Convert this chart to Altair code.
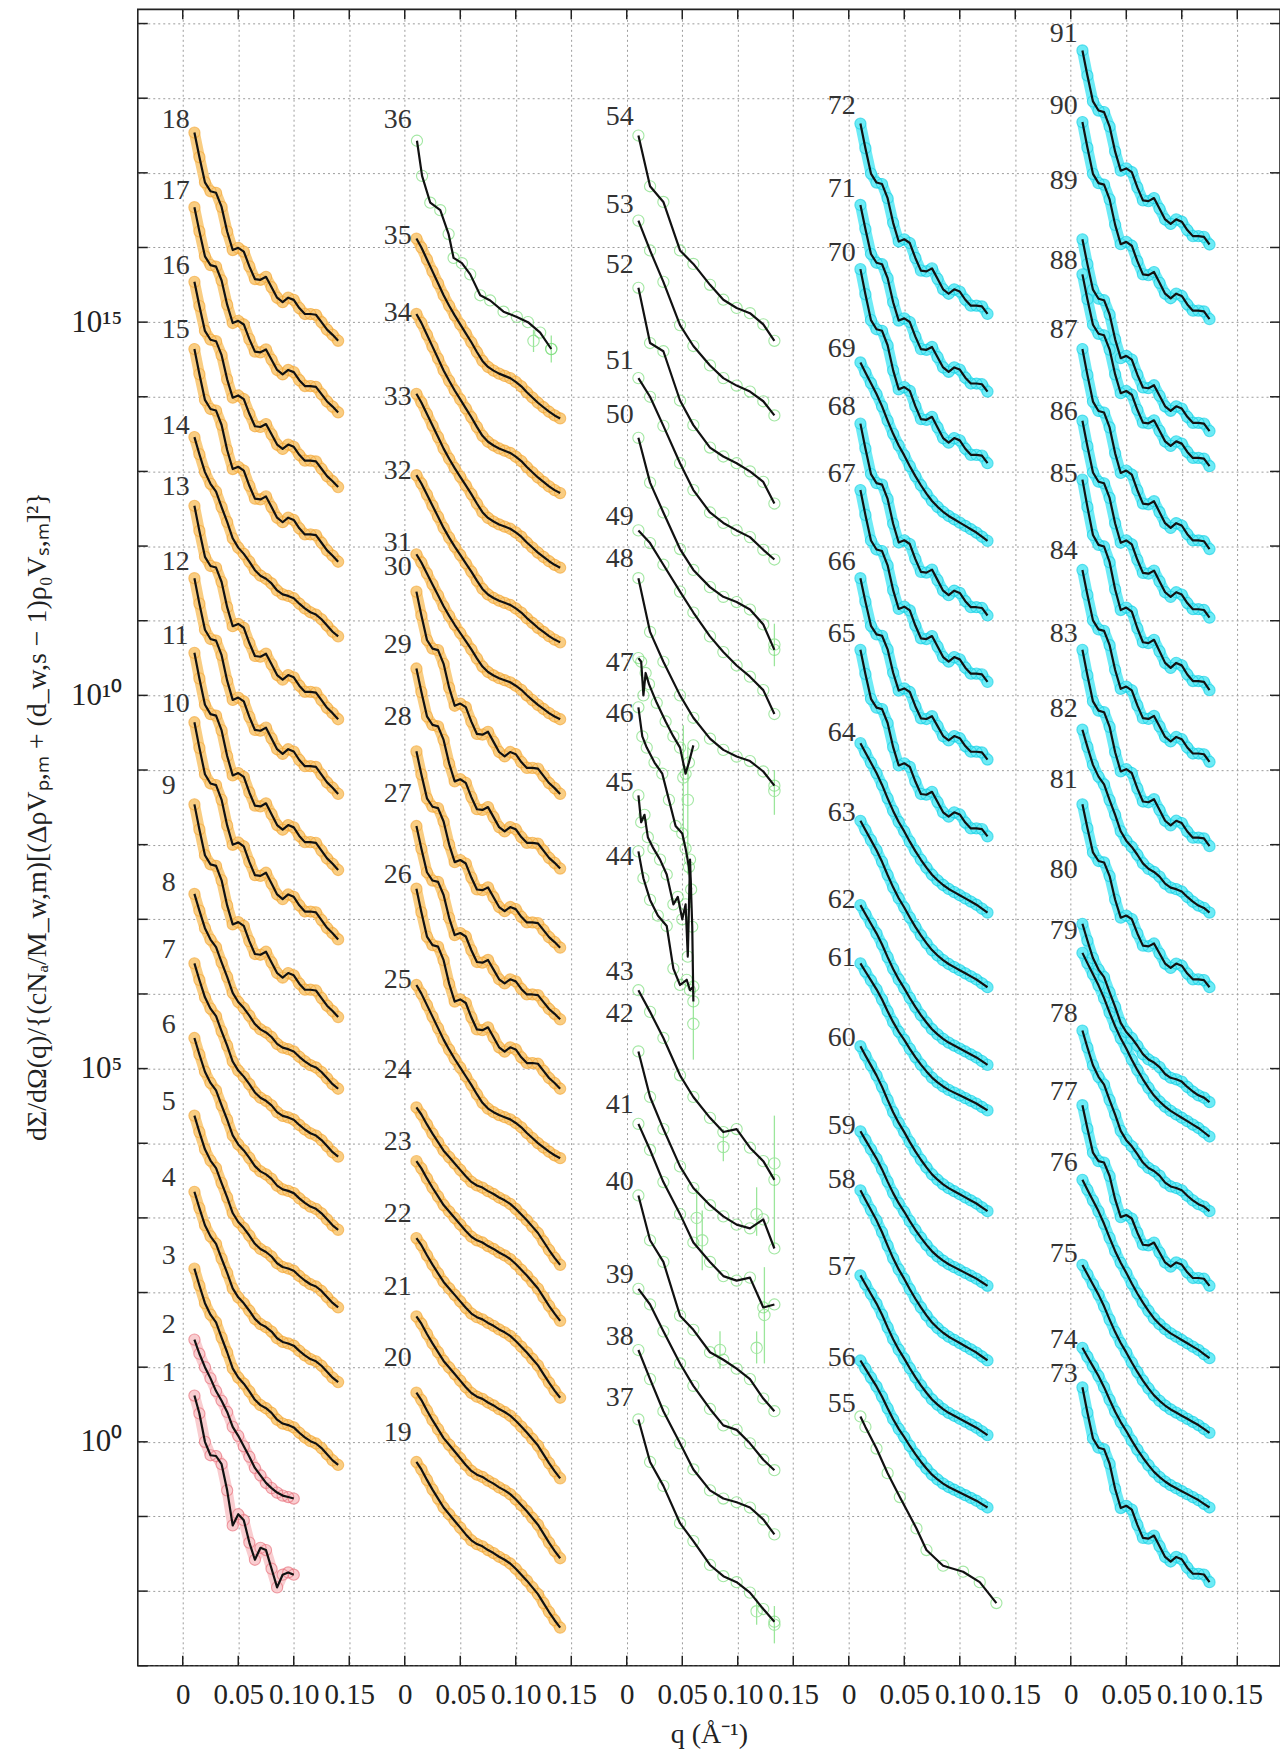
import json
import altair as alt
import pandas as pd

# ---------------- geometry ----------------
W, H = 1144, 1659
X_DOMAIN = [-0.0405, 0.9885]
Y_DOMAIN = [1e-3, 10 ** 19.19]
PANEL_SHIFT = 0.2
LABEL_DQ = -0.019

# ---------------- axis ticks ----------------
X_TICKS = [0.0, 0.05, 0.1, 0.15, 0.2, 0.25, 0.3, 0.35, 0.4, 0.45, 0.5, 0.55,
           0.6, 0.65, 0.7, 0.75, 0.8, 0.85, 0.9, 0.95]
X_TICK_TEXT = ["0", "0.05", "0.10", "0.15"]
Y_DECADES = list(range(-3, 20))
Y_TICK_TEXT = {0: "10⁰", 5: "10⁵", 10: "10¹⁰", 15: "10¹⁵"}

# ---------------- shape profiles (log10 drop vs q) ----------------
Q_GRID = [0.0105, 0.015, 0.02, 0.025, 0.03, 0.035, 0.04, 0.045, 0.05, 0.055, 0.06,
          0.065, 0.07, 0.075, 0.08, 0.085, 0.09, 0.095, 0.1, 0.105, 0.11, 0.115,
          0.12, 0.125, 0.13, 0.135, 0.14]
SHAPE_A = [0, -0.33, -0.67, -0.79, -0.81, -1.0, -1.33, -1.58, -1.55, -1.6, -1.8,
           -1.97, -1.98, -1.94, -2.08, -2.22, -2.28, -2.22, -2.25, -2.36, -2.44,
           -2.44, -2.45, -2.55, -2.65, -2.72, -2.80]
SHAPE_W = [0, -0.22, -0.45, -0.6, -0.7, -0.9, -1.09, -1.3, -1.42, -1.5, -1.6,
           -1.71, -1.78, -1.82, -1.88, -1.97, -2.02, -2.04, -2.07, -2.14, -2.2,
           -2.25, -2.28, -2.34, -2.42, -2.5, -2.56]
SHAPE_S = [0, -0.1, -0.24, -0.37, -0.49, -0.61, -0.7, -0.79, -0.88, -0.97, -1.05,
           -1.1, -1.13, -1.18, -1.22, -1.27, -1.31, -1.36, -1.43, -1.51, -1.59,
           -1.68, -1.77, -1.89, -2.01, -2.12, -2.22]
SHAPE_S1 = [0, -0.12, -0.28, -0.44, -0.6, -0.76, -0.9, -1.03, -1.15, -1.27, -1.39,
            -1.52, -1.64, -1.72, -1.77, -1.81, -1.84, -1.87, -1.92, -1.98, -2.06,
            -2.13, -2.2, -2.26, -2.32, -2.37, -2.41]
SHAPE_C = [0, -0.12, -0.25, -0.38, -0.53, -0.7, -0.86, -1.0, -1.12, -1.25, -1.37,
           -1.48, -1.58, -1.67, -1.74, -1.8, -1.85, -1.89, -1.93, -1.97, -2.01,
           -2.05, -2.1, -2.15]
SHAPES = {"A": SHAPE_A, "W": SHAPE_W, "S": SHAPE_S, "S1": SHAPE_S1, "C": SHAPE_C}

# ---------------- profile curves: id, shape, log10 start, log10 end ----------------
T_ID = [3, 4, 5, 6, 7, 8, 9, 10, 11, 12, 13, 14, 15, 16, 17, 18,
        19, 20, 21, 22, 23, 24, 25, 26, 27, 28, 29, 30, 31, 32, 33, 34, 35,
        56, 57, 58, 59, 60, 61, 62, 63, 64, 65, 66, 67, 68, 69, 70, 71, 72,
        73, 74, 75, 76, 77, 78, 79, 80, 81, 82, 83, 84, 85, 86, 87, 88, 89, 90, 91]
T_SHAPE = ["W", "W", "W", "W", "W", "W", "A", "A", "A", "A", "A", "W", "A", "A", "A", "A",
           "S", "S", "S", "S", "S", "S", "S1", "A", "A", "A", "A", "A", "S1", "S1", "S1", "S1", "S1",
           "C", "C", "C", "C", "C", "C", "C", "C", "C", "A", "A", "A", "A", "C", "A", "A", "A",
           "A", "C", "C", "C", "A", "W", "C", "W", "A", "W", "A", "A", "A", "A", "A", "A", "A", "A", "A"]
T_START = [2.32, 3.35, 4.37, 5.41, 6.41, 7.34, 8.54, 9.64, 10.57, 11.57, 12.54, 13.46, 14.64, 15.54, 16.54, 17.54,
           -0.27, 0.66, 1.68, 2.73, 3.76, 4.48, 6.12, 7.41, 8.25, 9.25, 10.36, 11.39, 11.89, 12.95, 14.04, 15.11, 16.12,
           1.09, 2.23, 3.37, 4.16, 5.30, 6.41, 7.19, 8.32, 9.36, 10.61, 11.57, 12.75, 13.64, 14.46, 15.71, 16.57, 17.66,
           0.73, 1.26, 2.37, 3.51, 4.51, 5.51, 6.55, 6.94, 8.54, 9.54, 10.61, 11.68, 12.89, 13.68, 14.64, 15.64, 16.11, 17.68, 18.64]
T_END = [-0.31, 0.80, 1.80, 2.84, 3.82, 4.73, 5.69, 6.73, 7.66, 8.68, 9.68, 10.79, 11.79, 12.79, 13.79, 14.75,
         -2.49, -1.56, -0.49, 0.59, 1.62, 2.37, 3.80, 4.73, 5.66, 6.62, 7.68, 8.68, 9.68, 10.71, 11.71, 12.71, 13.71,
         -0.88, 0.09, 1.09, 2.09, 3.09, 4.44, 5.05, 6.09, 7.09, 8.11, 9.14, 10.18, 11.07, 12.07, 13.11, 14.07, 15.11,
         -1.88, -0.88, 0.12, 1.12, 2.09, 3.09, 4.09, 4.55, 6.09, 7.09, 7.98, 9.11, 10.07, 11.04, 11.96, 13.07, 13.54, 15.04, 16.04]

# ---------------- explicitly read curves (log10 values) ----------------
RED_Q = [0.0105, 0.015, 0.02, 0.025, 0.03, 0.035, 0.04, 0.045, 0.05, 0.055, 0.06,
         0.065, 0.07, 0.075, 0.08, 0.085, 0.09, 0.095, 0.1]
C1 = [0.62, 0.38, 0.0, -0.18, -0.19, -0.3, -0.65, -1.12, -0.97, -1.05, -1.35,
      -1.58, -1.42, -1.45, -1.7, -1.95, -1.78, -1.75, -1.78]
C2 = [1.37, 1.18, 1.0, 0.85, 0.68, 0.55, 0.4, 0.2, 0.08, -0.06, -0.2,
      -0.35, -0.45, -0.55, -0.62, -0.68, -0.72, -0.74, -0.76]

GREEN_Q = [0.0105, 0.021, 0.033, 0.048, 0.06, 0.075, 0.087, 0.099, 0.111, 0.123, 0.133]
C37 = [0.30, -0.27, -0.59, -1.09, -1.33, -1.65, -1.80, -1.88, -2.02, -2.24, -2.41]
C38 = [1.23, 0.84, 0.41, -0.02, -0.37, -0.65, -0.76, -0.81, -0.88, -1.04, -1.24]
C39 = [2.05, 1.84, 1.48, 1.05, 0.75, 0.44, 0.22, 0.16, -0.02, -0.24, -0.38]
C40 = [3.30, 2.70, 2.41, 1.69, 1.50, 1.20, 1.10, 0.98, 0.84, 0.58, 0.41]
C41 = [4.26, 3.91, 3.48, 3.05, 2.67, 2.41, 2.22, 2.16, 2.20, 1.80, 1.84]
C42 = [5.23, 4.62, 4.19, 3.69, 3.40, 3.17, 3.02, 2.91, 2.86, 2.98, 2.59]
C43 = [6.05, 5.76, 5.41, 4.91, 4.62, 4.34, 4.15, 4.19, 3.94, 3.76, 3.51]
C48 = [11.57, 10.85, 10.45, 10.00, 9.70, 9.42, 9.27, 9.18, 9.12, 8.98, 8.79]
C49 = [12.21, 12.04, 11.75, 11.39, 11.11, 10.79, 10.58, 10.40, 10.25, 10.07, 9.75]
C50 = [13.45, 12.85, 12.45, 11.96, 11.68, 11.45, 11.32, 11.25, 11.15, 10.95, 10.61]
C51 = [14.25, 14.00, 13.61, 13.11, 12.75, 12.45, 12.31, 12.21, 12.12, 11.95, 11.82]
C52 = [15.46, 14.72, 14.61, 13.95, 13.62, 13.32, 13.20, 13.11, 13.00, 12.86, 12.57]
C53 = [16.36, 15.96, 15.54, 14.96, 14.68, 14.42, 14.25, 14.15, 14.07, 13.94, 13.75]
C54 = [17.50, 16.82, 16.61, 15.96, 15.78, 15.50, 15.30, 15.19, 15.12, 14.97, 14.75]

C44_Q = [0.0105, 0.015, 0.021, 0.028, 0.036, 0.042, 0.048, 0.054, 0.057, 0.06]
C44 = [7.91, 7.55, 7.26, 7.05, 6.91, 6.34, 6.12, 6.19, 6.05, 6.1]
C45_Q = [0.0105, 0.013, 0.016, 0.019, 0.024, 0.03, 0.036, 0.042, 0.046, 0.05,
         0.053, 0.055, 0.057, 0.059, 0.06]
C45 = [8.66, 8.3, 8.4, 8.1, 7.95, 7.8, 7.6, 7.2, 7.3, 7.0, 7.2, 6.5, 7.8, 6.9, 5.9]
C46_Q = [0.0105, 0.014, 0.018, 0.025, 0.032, 0.038, 0.044, 0.05, 0.053, 0.056, 0.058]
C46 = [9.84, 9.45, 9.3, 9.1, 8.95, 8.6, 8.25, 8.15, 7.95, 7.7, 7.4]
C47_Q = [0.0105, 0.013, 0.015, 0.017, 0.02, 0.027, 0.035, 0.042, 0.048, 0.053, 0.056, 0.06]
C47 = [10.5, 10.45, 10.0, 10.3, 10.15, 9.9, 9.65, 9.45, 9.3, 8.95, 9.1, 9.33]
C36_Q = [0.011, 0.0156, 0.023, 0.032, 0.0395, 0.044, 0.0515, 0.059, 0.068, 0.077,
         0.089, 0.101, 0.111, 0.122, 0.132]
C36 = [17.43, 16.96, 16.6, 16.5, 16.18, 15.86, 15.79, 15.64, 15.36, 15.29,
       15.14, 15.07, 15.0, 14.86, 14.64]
C55_Q = [0.0105, 0.015, 0.025, 0.035, 0.046, 0.061, 0.07, 0.085, 0.103, 0.118, 0.133]
C55 = [0.34, 0.2, -0.09, -0.42, -0.74, -1.16, -1.45, -1.66, -1.74, -1.88, -2.16]

EXPLICIT = [(1, RED_Q, C1), (2, RED_Q, C2), (36, C36_Q, C36),
            (37, GREEN_Q, C37), (38, GREEN_Q, C38), (39, GREEN_Q, C39),
            (40, GREEN_Q, C40), (41, GREEN_Q, C41), (42, GREEN_Q, C42),
            (43, GREEN_Q, C43), (44, C44_Q, C44), (45, C45_Q, C45),
            (46, C46_Q, C46), (47, C47_Q, C47), (48, GREEN_Q, C48),
            (49, GREEN_Q, C49), (50, GREEN_Q, C50), (51, GREEN_Q, C51),
            (52, GREEN_Q, C52), (53, GREEN_Q, C53), (54, GREEN_Q, C54),
            (55, C55_Q, C55)]

# green scattered data points with error bars: panel, q, log10 mid, low, high
ERR_PANEL = [2, 2, 2, 2, 2, 2, 2, 2, 2, 2, 2, 2, 2, 2, 2, 1, 1]
ERR_Q = [0.133, 0.117, 0.087, 0.124, 0.063, 0.068, 0.084, 0.117, 0.117, 0.133,
         0.060, 0.051, 0.055, 0.133, 0.133, 0.116, 0.132]
ERR_MID = [3.73, 3.05, 3.95, 1.70, 3.00, 2.70, 1.23, 1.26, -2.27, -2.45,
           5.60, 8.90, 8.60, 10.68, 8.72, 14.75, 14.64]
ERR_LO = [2.62, 2.76, 3.76, 1.05, 2.60, 2.30, 0.98, 1.05, -2.45, -2.70,
          5.12, 8.00, 7.60, 10.39, 8.40, 14.60, 14.46]
ERR_HI = [4.37, 3.41, 4.19, 2.34, 3.40, 3.10, 1.48, 1.48, -2.10, -2.20,
          6.26, 9.60, 9.30, 10.96, 9.00, 14.90, 14.82]

# curve label heights (log10), curves 1..91
LABEL_LOG = [0.92, 1.56, 2.49, 3.54, 4.55, 5.59, 6.59, 7.48, 8.79, 9.89, 10.79, 11.79,
             12.79, 13.61, 14.89, 15.75, 16.75, 17.71,
             0.12, 1.12, 2.08, 3.05, 4.01, 4.98, 6.19, 7.59, 8.68, 9.71, 10.68, 11.72,
             12.04, 13.0, 14.0, 15.12, 16.16, 17.71,
             0.59, 1.41, 2.23, 3.48, 4.51, 5.73, 6.3, 7.84, 8.82, 9.75, 10.43, 11.82,
             12.39, 13.75, 14.48, 15.77, 16.57, 17.75,
             0.51, 1.12, 2.34, 3.51, 4.23, 5.41, 6.48, 7.26, 8.43, 9.5, 10.82, 11.79,
             12.96, 13.86, 14.64, 15.93, 16.79, 17.89,
             0.91, 1.37, 2.51, 3.73, 4.69, 5.73, 6.84, 7.66, 8.86, 9.82, 10.82, 11.93,
             12.96, 13.79, 14.89, 15.82, 16.89, 17.89, 18.86]

GROUPS = ["orange", "cyan", "red", "green"]
BAND_COLORS = ["#F9CD82", "#6DEBF6", "#F9CDD0", "#D8F6D8"]
RING_COLORS = ["#F4A838", "#16D0E4", "#E9707B", "#72DC72"]
ERR_COLOR = "#9BE69B"


def panel_of(cid):
    return min((cid - 1) // 18, 4)


def group_of(cid):
    if cid <= 2:
        return "red"
    if cid <= 35:
        return "orange"
    if cid <= 55:
        return "green"
    return "cyan"


rows = []
for cid, shp, s, e in zip(T_ID, T_SHAPE, T_START, T_END):
    grp = group_of(cid)
    prof = SHAPES[shp]
    n = 24 if grp == "cyan" else 27
    t_end = prof[n - 1]
    for q, t in zip(Q_GRID[:n], prof[:n]):
        rows.append({"x": q + PANEL_SHIFT * panel_of(cid),
                     "y": 10 ** (s + (e - s) * t / t_end),
                     "curve": cid, "group": grp})
for cid, qs, ls in EXPLICIT:
    for q, l in zip(qs, ls):
        rows.append({"x": q + PANEL_SHIFT * panel_of(cid), "y": 10 ** l,
                     "curve": cid, "group": group_of(cid)})
df = pd.DataFrame(rows)
df_band = df[df["group"] != "green"]

errs = pd.DataFrame({
    "x": [q + PANEL_SHIFT * p for p, q in zip(ERR_PANEL, ERR_Q)],
    "y": [10 ** v for v in ERR_LO],
    "y2": [10 ** v for v in ERR_HI],
    "ym": [10 ** v for v in ERR_MID],
})

labels = pd.DataFrame({
    "x": [LABEL_DQ + PANEL_SHIFT * panel_of(i) for i in range(1, 92)],
    "y": [10 ** v for v in LABEL_LOG],
    "t": [str(i) for i in range(1, 92)],
})
xt = pd.DataFrame({"x": X_TICKS})
yt = pd.DataFrame({"y": [10.0 ** k for k in Y_DECADES]})

# ---------------- axes ----------------
FONT = "Liberation Serif"
x_label_expr = f"{json.dumps(X_TICK_TEXT)}[round(datum.value / 0.05) % 4]"
y_label_expr = "''"
for k in sorted(Y_TICK_TEXT, reverse=True):
    y_label_expr = f"round(log(datum.value) / LN10) == {k} ? '{Y_TICK_TEXT[k]}' : ({y_label_expr})"

x_axis = alt.Axis(values=X_TICKS, labelExpr=x_label_expr, grid=True, gridDash=[2, 3],
                  gridColor="#9c9c9c", gridWidth=1, ticks=False, domain=False,
                  labelFont=FONT, labelFontSize=29, labelColor="#222", labelPadding=15,
                  labelOverlap=False, labelFlush=False,
                  title="q (Å⁻¹)", titleFont=FONT, titleFontSize=28, titleFontWeight="normal",
                  titleColor="#222", titleX=W / 2, titleY=69, titleBaseline="middle",
                  titleAlign="center")
y_axis = alt.Axis(values=[10.0 ** k for k in Y_DECADES], labelExpr=y_label_expr, grid=True,
                  gridDash=[2, 3], gridColor="#9c9c9c", gridWidth=1, ticks=False, domain=False,
                  labelFont=FONT, labelFontSize=31, labelColor="#222", labelPadding=16,
                  labelOverlap=False, labelFlush=False,
                  title="dΣ/dΩ(q)/{(cNₐ/M_w,m)[(ΔρVₚ,ₘ + (d_w,s − 1)ρ₀Vₛ,ₘ]²}",
                  titleFont=FONT, titleFontSize=28, titleFontWeight="normal", titleColor="#222",
                  titleAngle=-90, titleX=-100, titleY=808, titleAlign="center",
                  titleBaseline="middle")

X = alt.X("x:Q", scale=alt.Scale(domain=X_DOMAIN, nice=False, zero=False), axis=x_axis)
Y = alt.Y("y:Q", scale=alt.Scale(type="log", domain=Y_DOMAIN, nice=False), axis=y_axis)

band = alt.Chart(df_band).mark_line(strokeWidth=11, strokeCap="round", strokeJoin="round").encode(
    x=X, y=Y, detail="curve:N", order=alt.Order("x:Q"),
    color=alt.Color("group:N", scale=alt.Scale(domain=GROUPS, range=BAND_COLORS), legend=None))
err_bars = alt.Chart(errs).mark_rule(color=ERR_COLOR, strokeWidth=1.3).encode(
    x=X, y=Y, y2=alt.Y2("y2"))
err_pts = alt.Chart(errs).mark_point(shape="circle", filled=False, size=130, strokeWidth=1.1,
                                     color=ERR_COLOR, opacity=0.9).encode(
    x=X, y=alt.Y("ym:Q", scale=alt.Scale(type="log", domain=Y_DOMAIN, nice=False), axis=y_axis))
rings = alt.Chart(df).mark_point(shape="circle", filled=False, size=125, strokeWidth=1.1,
                                 opacity=0.65).encode(
    x=X, y=Y,
    stroke=alt.Stroke("group:N", scale=alt.Scale(domain=GROUPS, range=RING_COLORS), legend=None))
fit = alt.Chart(df).mark_line(color="#111", strokeWidth=2.2, strokeJoin="round").encode(
    x=X, y=Y, detail="curve:N", order=alt.Order("x:Q"))
text = alt.Chart(labels).mark_text(align="left", baseline="middle", font=FONT, fontSize=28,
                                   color="#333").encode(x=X, y=Y, text="t:N")

TL = 10
tick_b = alt.Chart(xt).mark_rule(color="#222", strokeWidth=1.5).encode(
    x=X, y=alt.value(H), y2=alt.value(H - TL))
tick_t = alt.Chart(xt).mark_rule(color="#222", strokeWidth=1.5).encode(
    x=X, y=alt.value(0), y2=alt.value(TL))
tick_l = alt.Chart(yt).mark_rule(color="#222", strokeWidth=1.5).encode(
    y=Y, x=alt.value(0), x2=alt.value(TL))
tick_r = alt.Chart(yt).mark_rule(color="#222", strokeWidth=1.5).encode(
    y=Y, x=alt.value(W), x2=alt.value(W - TL))

chart = alt.layer(band, err_bars, err_pts, rings, fit, text,
                  tick_b, tick_t, tick_l, tick_r).properties(
    width=W, height=H,
    padding={"left": 130, "top": 0, "right": 0, "bottom": 84},
    autosize=alt.AutoSizeParams(type="none"),
).configure_view(stroke="#222", strokeWidth=1.6)

chart.save("out.html", embed_options={"renderer": "svg", "actions": False})
